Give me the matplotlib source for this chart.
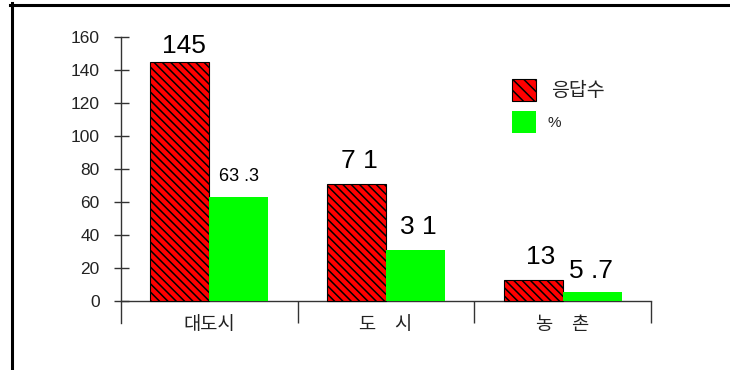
import matplotlib
matplotlib.use('Agg')
import matplotlib.pyplot as plt
from matplotlib.lines import Line2D
from matplotlib.patches import Rectangle

plt.rcParams['font.family'] = ['Liberation Sans', 'Noto Sans CJK KR', 'DejaVu Sans']
plt.rcParams['hatch.linewidth'] = 1.1

# survey responses by region
categories = ['대도시', '도\u3000시', '농\u3000촌']
counts = [145, 71, 13]
percents = [63.3, 31, 5.7]
count_labels = ['145', '7 1', '13']
percent_labels = ['63 .3', '3 1', '5 .7']
series_names = ['응답수', '%']

W, H = 730, 370
fig = plt.figure(figsize=(W / 100, H / 100), dpi=100)
fig.patch.set_facecolor('white')

# axes box in pixels: x 121..651, y 37..323 (0 sits at y=301)
ax = fig.add_axes([121 / W, (H - 323) / H, 530 / W, 286 / H])
ymin = -22 / 1.65
ax.set_xlim(-0.5, 2.5)
ax.set_ylim(ymin, 160)
ax.set_facecolor('none')

for s in ['top', 'right', 'bottom']:
    ax.spines[s].set_visible(False)
ax.spines['left'].set_color('#333333')
ax.spines['left'].set_linewidth(1.0)

ax.set_yticks(range(0, 161, 20))
ax.tick_params(axis='y', direction='inout', length=10.8, width=1.0,
               color='#333333', labelsize=12.5, pad=10, labelcolor='#222222')
ax.set_xticks([])

# baseline and group separators
ax.plot([-0.5, 2.5], [0, 0], color='#333333', lw=1.0, clip_on=False)
ax.vlines([0.5, 1.5, 2.5], ymin, 0, color='#333333', lw=1.0, clip_on=False)

x = list(range(len(categories)))
bw = 1 / 3
red = ax.bar([i - bw / 2 for i in x], counts, width=bw, color='#ff0000',
             edgecolor='black', linewidth=0.8, hatch='\\' * 4, zorder=2)
green = ax.bar([i + bw / 2 for i in x], percents, width=bw, color='#00ff00',
               edgecolor='#00ff00', linewidth=0, zorder=2)

# value labels above bars (offsets in points)
count_offsets = [6.5, 11.5, 11.5]
count_dx = [3, 2, 5]
for i, (v, t) in enumerate(zip(counts, count_labels)):
    ax.annotate(t, (i - bw / 2, v), xytext=(count_dx[i], count_offsets[i]),
                textcoords='offset points', ha='center', va='baseline',
                fontsize=19)
pct_offsets = [11.5, 11.5, 10]
pct_sizes = [13, 19, 19]
pct_dx = [0, 2, -1]
for i, (v, t) in enumerate(zip(percents, percent_labels)):
    ax.annotate(t, (i + bw / 2, v), xytext=(pct_dx[i], pct_offsets[i]),
                textcoords='offset points', ha='center', va='baseline',
                fontsize=pct_sizes[i])

for i, c in enumerate(categories):
    ax.text(i, -14.8, c, ha='center', va='center', fontsize=13.5,
            color='#222222')

# legend drawn by hand
def px(xp, yp):
    return xp / W, (H - yp) / H

lx, lw_, lh = 512, 24, 22
r = Rectangle(px(lx, 101), lw_ / W, lh / H, transform=fig.transFigure,
              facecolor='#ff0000', edgecolor='black', linewidth=0.8,
              hatch='\\' * 3)
g = Rectangle(px(lx, 133), lw_ / W, lh / H, transform=fig.transFigure,
              facecolor='#00ff00', edgecolor='none')
fig.add_artist(r)
fig.add_artist(g)
fig.text(*px(551, 91), series_names[0], ha='left', va='center', fontsize=14,
         color='#222222')
fig.text(*px(547, 123), series_names[1], ha='left', va='center', fontsize=11,
         color='#222222')

# outer frame: top and left edges only
fig.add_artist(Line2D([10 / W, 1.0], [1 - 4.5 / H, 1 - 4.5 / H],
                      transform=fig.transFigure, color='black', lw=2.2))
fig.add_artist(Line2D([11.5 / W, 11.5 / W], [0, 1 - 3 / H],
                      transform=fig.transFigure, color='black', lw=2.2))

fig.savefig('out.png', dpi=100)
